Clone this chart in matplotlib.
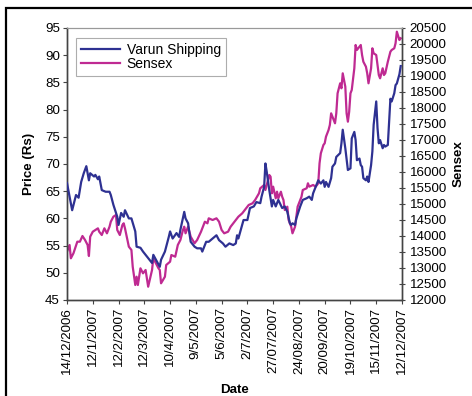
import matplotlib
matplotlib.use("Agg")
import matplotlib.pyplot as plt
from matplotlib.patches import Rectangle

# ---- data (trading-day index from 14/12/2006) ----
varun_day = [0, 4, 7, 9, 11, 13, 15, 17, 18, 21, 22, 24, 25, 27, 30, 33, 34, 36, 39, 40,
             42, 44, 45, 48, 50, 53, 54, 57, 59, 62, 66, 67, 70, 72, 73, 76, 79, 80, 82, 85,
             87, 88, 91, 92, 94, 95, 96, 99, 101, 104, 105, 108, 110, 113, 116, 118, 121, 123, 126, 129,
             131, 132, 133, 136, 137, 140, 142, 145, 147, 150, 151, 153, 154, 155, 157, 159, 160, 162, 164, 167,
             169, 171, 173, 174, 175, 177, 178, 181, 183, 186, 188, 190, 191, 193, 195, 197, 199, 200, 201, 203,
             205, 206, 208, 209, 212, 213, 214, 216, 218, 220, 221, 223, 224, 225, 227, 228, 229, 230, 232, 233,
             234, 236, 237, 238, 240, 241, 242, 243, 245, 246, 247, 249, 250, 251, 252, 254, 255, 256, 258, 259]
varun_price = [66.5, 61.5, 64.3, 63.8, 66.7, 68.3, 69.6, 67.0, 68.3, 67.7, 68.0, 67.2, 67.7, 65.2, 64.9, 64.9, 64.3, 62.5, 60.3, 58.8,
               61.0, 60.3, 61.5, 60.0, 60.0, 57.6, 54.8, 54.6, 53.9, 53.0, 51.8, 53.3, 52.0, 51.1, 52.4, 53.9, 56.6, 57.6, 56.3, 57.3,
               56.6, 57.9, 61.2, 60.0, 59.1, 57.3, 55.7, 54.8, 54.5, 54.5, 53.9, 55.7, 55.7, 56.3, 56.9, 56.0, 55.4, 54.8, 55.4, 55.1,
               55.4, 56.9, 56.3, 58.8, 59.7, 59.7, 61.9, 62.2, 63.0, 62.8, 64.0, 65.8, 70.1, 68.6, 65.2, 62.2, 63.4, 62.2, 63.4, 61.9,
               62.2, 61.2, 59.1, 58.8, 59.1, 58.8, 60.0, 62.2, 63.4, 63.7, 64.0, 63.4, 64.6, 65.8, 67.0, 66.4, 67.0, 65.8, 66.7, 65.8,
               67.4, 69.5, 70.1, 71.3, 72.0, 73.8, 76.3, 72.9, 68.9, 69.2, 74.7, 75.9, 74.4, 70.7, 71.0, 69.8, 69.5, 67.4, 67.0, 67.7,
               66.7, 69.8, 72.3, 77.2, 81.5, 76.6, 73.8, 74.4, 72.9, 73.5, 73.2, 73.5, 77.8, 82.0, 81.5, 83.0, 84.5, 84.8, 86.5, 88.0]

sensex_day = [0, 2, 3, 5, 8, 10, 12, 14, 16, 17, 18, 20, 22, 24, 25, 27, 29, 31, 33, 34,
              36, 38, 39, 41, 43, 44, 45, 48, 50, 51, 53, 54, 55, 57, 59, 61, 63, 66, 67, 69,
              71, 72, 73, 76, 77, 80, 81, 84, 86, 88, 90, 91, 92, 94, 95, 96, 99, 101, 104, 107,
              109, 110, 113, 116, 118, 120, 122, 125, 127, 130, 133, 136, 138, 141, 144, 146, 149, 150, 153, 154,
              157, 158, 159, 160, 162, 163, 164, 166, 167, 168, 169, 171, 172, 174, 175, 177, 178, 179, 182, 183,
              186, 187, 188, 191, 193, 195, 196, 197, 199, 200, 201, 203, 204, 205, 206, 208, 209, 210, 212, 213,
              214, 216, 217, 218, 219, 220, 221, 223, 224, 225, 227, 228, 229, 230, 232, 233, 234, 236, 237, 238,
              240, 241, 242, 243, 245, 246, 247, 249, 250, 251, 252, 254, 255, 256, 258, 259]
sensex_value = [13510, 13719, 13303, 13459, 13822, 13822, 14000, 13875, 13719, 13375, 13978, 14134, 14188, 14240, 14134, 14031, 14240, 14084, 14291, 14447,
                14603, 14656, 14188, 14031, 14344, 14397, 14240, 13666, 13563, 13041, 12469, 12728, 12469, 12990, 12834, 12938, 12416, 12938, 13303, 13147,
                12990, 12938, 12522, 12728, 13094, 13197, 13406, 13353, 13719, 13875, 14188, 14291, 14084, 14291, 14134, 13978, 13772, 13875, 14134, 14447,
                14397, 14553, 14500, 14553, 14447, 14188, 14084, 14134, 14291, 14447, 14603, 14709, 14813, 14969, 15022, 15125, 15334, 15491, 15594, 15438,
                15906, 15853, 15334, 15541, 15178, 15384, 15178, 15384, 15228, 15125, 14813, 14916, 14500, 14291, 14084, 14291, 14603, 14916, 15228, 15438,
                15491, 15647, 15541, 15594, 15541, 15647, 16272, 16584, 16844, 16897, 17103, 17313, 17469, 17834, 17728, 17522, 17834, 18459, 18772, 18616,
                19084, 18666, 17834, 17572, 17884, 18459, 18563, 19241, 19969, 19813, 19916, 19969, 19656, 19447, 19291, 19084, 18772, 19241, 19866, 19709,
                19656, 19344, 19031, 18928, 19241, 19031, 19084, 19447, 19603, 19759, 19813, 19866, 20022, 20384, 20125, 20178]

date_labels = ["14/12/2006", "12/1/2007", "12/2/2007", "12/3/2007", "10/4/2007", "9/5/2007",
               "5/6/2007", "2/7/2007", "27/07/2007", "24/08/2007", "20/09/2007", "19/10/2007",
               "15/11/2007", "12/12/2007"]
date_tick_day = [0, 20, 40, 60, 80, 100, 120, 140, 160, 180, 200, 220, 240, 260]
price_ticks = [45, 50, 55, 60, 65, 70, 75, 80, 85, 90, 95]
sensex_ticks = list(range(12000, 20501, 500))

# ---- style ----
plt.rcParams['font.family'] = ['Liberation Sans', 'DejaVu Sans']
BLUE = '#2E3192'
MAGENTA = '#BF2A92'
AX = '#444444'
FS = 9.6

fig = plt.figure(figsize=(4.72, 3.96), dpi=100)
# outer chart-area border (partially visible)
fig.patches.append(Rectangle((6 / 472, -0.05), 1.1, (396 - 8) / 396 + 0.05,
                             transform=fig.transFigure, fill=False,
                             edgecolor='black', linewidth=1.6, zorder=0))

ax = fig.add_axes([67 / 472, (396 - 300) / 396, (402 - 67) / 472, (300 - 28) / 396])
ax2 = ax.twinx()

l1, = ax.plot(varun_day, varun_price, color=BLUE, lw=1.6, label='Varun Shipping', zorder=3)
l2, = ax2.plot(sensex_day, sensex_value, color=MAGENTA, lw=1.6, label='Sensex', zorder=2)
ax.set_zorder(ax2.get_zorder() + 1)
ax.patch.set_visible(False)

ax.set_xlim(0, 260)
ax.set_ylim(45, 95)
ax2.set_ylim(12000, 20500)

ax.set_xticks(date_tick_day)
ax.set_xticklabels(date_labels, rotation=90, fontsize=FS)
ax.set_yticks(price_ticks)
ax.set_yticklabels([str(v) for v in price_ticks], fontsize=FS)
ax2.set_yticks(sensex_ticks)
ax2.set_yticklabels([str(v) for v in sensex_ticks], fontsize=FS)

for a in (ax, ax2):
    for s in a.spines.values():
        s.set_color(AX)
        s.set_linewidth(1.0)
    a.spines['top'].set_color('#999999')
    a.spines['top'].set_linewidth(0.8)

ax.tick_params(axis='both', direction='out', length=3, width=0.8, color=AX, pad=2)
ax2.tick_params(axis='y', direction='inout', length=5, width=0.8, color=AX, pad=3)

ax.set_xlabel('Date', fontsize=FS, fontweight='bold', labelpad=7)
ax.set_ylabel('Price (Rs)', fontsize=FS, fontweight='bold', labelpad=7)
ax2.set_ylabel('Sensex', fontsize=FS, fontweight='bold', rotation=90, labelpad=4)

leg = ax.legend([l1, l2], ['Varun Shipping', 'Sensex'], loc='upper left',
                bbox_to_anchor=(9 / 335, 1 - 10 / 272), fontsize=FS + 0.4,
                frameon=True, fancybox=False, borderpad=0.35, labelspacing=0.0,
                handlelength=2.8, handletextpad=0.5, borderaxespad=0)
leg.get_frame().set_edgecolor('#999999')
leg.get_frame().set_linewidth(0.8)

fig.savefig('out.png', dpi=100)
